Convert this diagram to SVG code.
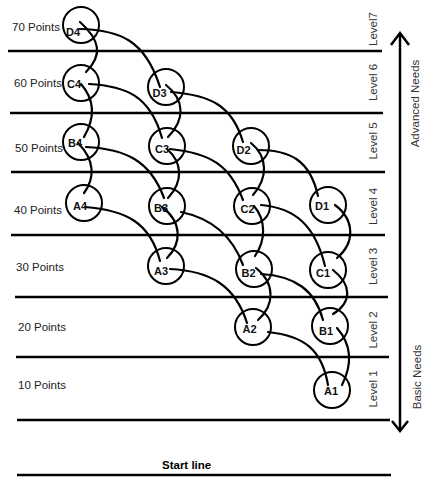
<svg xmlns="http://www.w3.org/2000/svg" width="441" height="483" viewBox="0 0 441 483">
<style>
.rule{stroke:#000;stroke-width:2.5;fill:none}
.arrow{stroke:#000;stroke-width:2.5;fill:none;stroke-linejoin:miter}
.conn path{stroke:#000;stroke-width:2.2;fill:none;stroke-linecap:round}
.node circle{stroke:#000;stroke-width:2;fill:none}
.nl{font-family:"Liberation Sans",Arial,sans-serif;font-size:11px;font-weight:bold;fill:#111}
.pts{font-family:"Liberation Sans",Arial,sans-serif;font-size:11.5px;fill:#222}
.lvl{font-family:"Liberation Sans",Arial,sans-serif;font-size:11.5px;fill:#333;text-anchor:middle}
.start{font-family:"Liberation Sans",Arial,sans-serif;font-size:11.5px;font-weight:bold;fill:#000}
</style>
<rect width="441" height="483" fill="#fff"/>
<g id="rules">
<line class="rule" x1="8" y1="51" x2="382" y2="51"/>
<line class="rule" x1="10" y1="113" x2="383" y2="113"/>
<line class="rule" x1="11" y1="172" x2="385" y2="172"/>
<line class="rule" x1="11" y1="235" x2="385" y2="235"/>
<line class="rule" x1="15" y1="297" x2="388" y2="297"/>
<line class="rule" x1="16" y1="357" x2="389" y2="357"/>
<line class="rule" x1="17" y1="420" x2="390" y2="420"/>
<line class="rule" x1="17" y1="475" x2="391" y2="475"/>
</g>
<g id="needs-arrow">
<line class="arrow" x1="400" y1="33" x2="400" y2="431"/>
<polyline class="arrow" points="391,45 400,33 409,45"/>
<polyline class="arrow" points="392,421 400,431 408,421"/>
</g>
<g id="labels">
<text class="pts" x="12" y="31">70 Points</text>
<text class="pts" x="14" y="87">60 Points</text>
<text class="pts" x="15" y="151.5">50 Points</text>
<text class="pts" x="14" y="214">40 Points</text>
<text class="pts" x="16" y="271">30 Points</text>
<text class="pts" x="18" y="331">20 Points</text>
<text class="pts" x="18" y="389">10 Points</text>
<text class="start" x="162" y="469">Start line</text>
<text class="lvl" transform="translate(377,29) rotate(-90)">Level7</text>
<text class="lvl" transform="translate(377,82.5) rotate(-90)">Level 6</text>
<text class="lvl" transform="translate(377,141) rotate(-90)">Level 5</text>
<text class="lvl" transform="translate(377,206.5) rotate(-90)">Level 4</text>
<text class="lvl" transform="translate(377,266.5) rotate(-90)">Level 3</text>
<text class="lvl" transform="translate(377,330) rotate(-90)">Level 2</text>
<text class="lvl" transform="translate(377,389) rotate(-90)">Level 1</text>
<text class="lvl" transform="translate(419,103.5) rotate(-90)">Advanced Needs</text>
<text class="lvl" transform="translate(421,377) rotate(-90)">Basic Needs</text>
</g>
<g id="connectors" class="conn">
<path d="M80,29 C120,30 145,40 160,87"/>
<path d="M171,92 C210,95 232,105 243,142"/>
<path d="M258,150 C290,150 310,160 318,196"/>
<path d="M89,84 C125,86 150,95 162,138"/>
<path d="M170,149 C210,153 230,165 243,200"/>
<path d="M261,205 C295,208 315,225 325,266"/>
<path d="M86,147 C125,149 150,160 164,198"/>
<path d="M181,212 C210,218 232,235 243,265"/>
<path d="M261,274 C295,276 315,290 323,320"/>
<path d="M85,207 C125,210 150,222 160,261"/>
<path d="M170,269 C210,271 235,285 247,323"/>
<path d="M268,332 C305,336 322,350 328,385"/>
<path d="M80,22 C100,40 103,55 86,72"/>
<path d="M81,84 C95,100 95,118 84,137"/>
<path d="M78,143 C95,160 95,178 84,193"/>
<path d="M166,85 C185,100 185,120 168,137"/>
<path d="M167,149 C183,163 183,182 168,198"/>
<path d="M162,207 C182,222 182,243 167,258"/>
<path d="M251,143 C268,157 268,178 253,195"/>
<path d="M254,206 C266,220 266,240 255,256"/>
<path d="M256,268 C275,283 275,305 258,320"/>
<path d="M335,205 C355,220 355,243 337,258"/>
<path d="M333,270 C352,285 352,302 333,314"/>
<path d="M337,328 C352,345 352,365 342,385"/>
</g>
<g id="D4" class="node"><circle cx="81" cy="25" r="18"/><text class="nl" x="66" y="35.5">D4</text></g>
<g id="C4" class="node"><circle cx="81" cy="83" r="18"/><text class="nl" x="67" y="88">C4</text></g>
<g id="D3" class="node"><circle cx="166" cy="87" r="18"/><text class="nl" x="152.5" y="97">D3</text></g>
<g id="B4" class="node"><circle cx="81" cy="142" r="18"/><text class="nl" x="68" y="146.5">B4</text></g>
<g id="C3" class="node"><circle cx="167" cy="146" r="18"/><text class="nl" x="155" y="153">C3</text></g>
<g id="D2" class="node"><circle cx="251" cy="146" r="18"/><text class="nl" x="236.5" y="154">D2</text></g>
<g id="A4" class="node"><circle cx="84" cy="203" r="18"/><text class="nl" x="73" y="210">A4</text></g>
<g id="B3" class="node"><circle cx="167" cy="206" r="18"/><text class="nl" x="154" y="212">B3</text></g>
<g id="C2" class="node"><circle cx="252" cy="206" r="18"/><text class="nl" x="240.5" y="213">C2</text></g>
<g id="D1" class="node"><circle cx="328" cy="205" r="18"/><text class="nl" x="315" y="210">D1</text></g>
<g id="A3" class="node"><circle cx="166" cy="266" r="18"/><text class="nl" x="154" y="275">A3</text></g>
<g id="B2" class="node"><circle cx="254" cy="269" r="18"/><text class="nl" x="241.5" y="276.5">B2</text></g>
<g id="C1" class="node"><circle cx="328" cy="270" r="18"/><text class="nl" x="316" y="277">C1</text></g>
<g id="A2" class="node"><circle cx="253" cy="327" r="18"/><text class="nl" x="242.5" y="333">A2</text></g>
<g id="B1" class="node"><circle cx="330" cy="326" r="18"/><text class="nl" x="319" y="335">B1</text></g>
<g id="A1" class="node"><circle cx="332" cy="390" r="18"/><text class="nl" x="324" y="395">A1</text></g>
</svg>
